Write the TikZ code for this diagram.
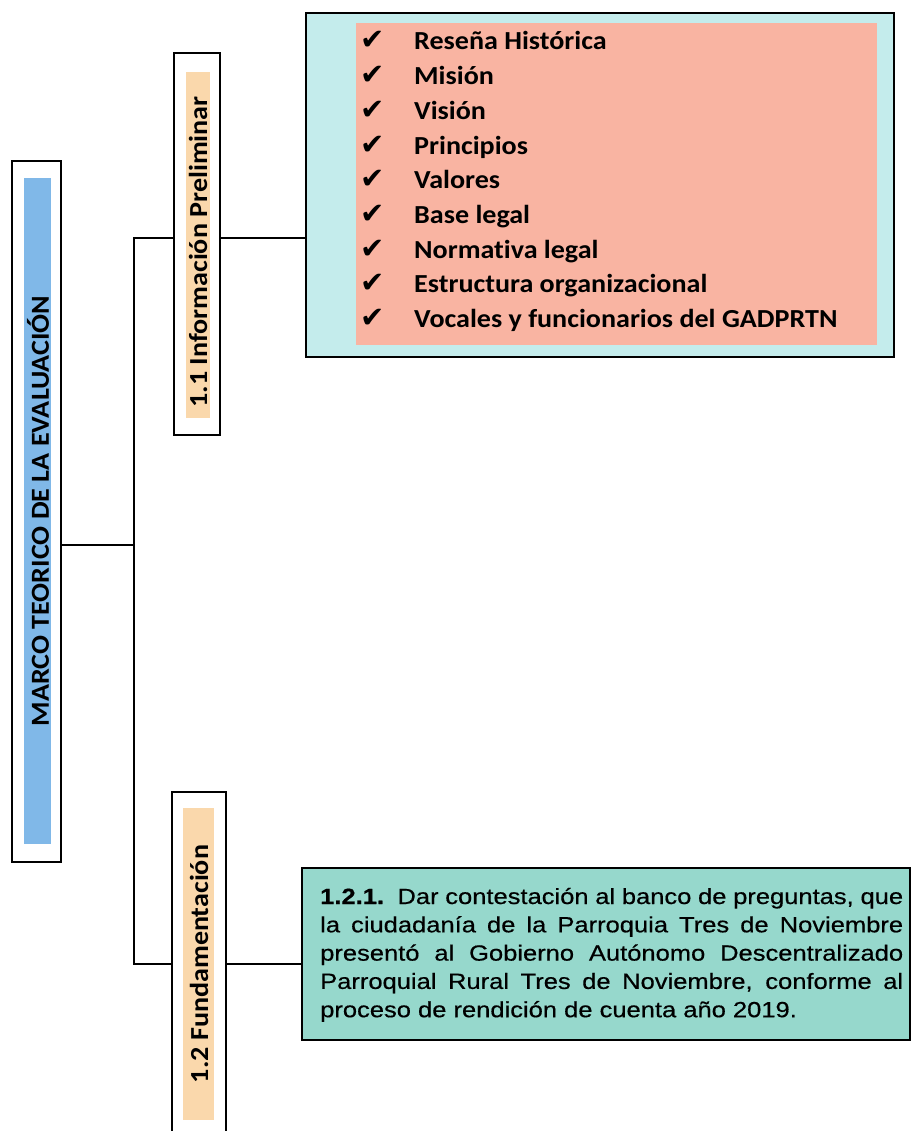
\documentclass[tikz,border=0pt]{standalone}
\usepackage{fontspec}
\newfontfamily\calb{Carlito Bold}[FakeStretch=1.08,Ligatures=NoCommon]
\newfontfamily\arl{Liberation Sans}[FakeStretch=1.16,FakeBold=0.5]
\newfontfamily\dejavu{DejaVu Sans}
\definecolor{mainblue}{RGB}{128,184,232}
\definecolor{peach}{RGB}{250,216,172}
\definecolor{paleCyan}{RGB}{196,236,236}
\definecolor{salmon}{RGB}{249,180,162}
\definecolor{tealbox}{RGB}{150,216,204}
\tikzset{
  frame/.style={draw=black, line width=2.2pt, rectangle, inner sep=0pt, outer sep=0pt},
  fillbox/.style={rectangle, inner sep=0pt, outer sep=0pt, draw=none},
  conn/.style={draw=black, line width=2.2pt},
  vlabel/.style={rotate=90, inner sep=0pt, font=\calb\fontsize{26}{30}\selectfont},
  listtext/.style={anchor=base west, inner sep=0pt, font=\calb\fontsize{26}{30}\selectfont},
  checkmark/.style={anchor=base west, inner sep=0pt, font=\dejavu\fontsize{29}{32}\selectfont},
}
\begin{document}
\begin{tikzpicture}[x=1pt,y=-1pt]
\useasboundingbox (0,0) rectangle (912,1131);
\clip (0,0) rectangle (912,1131);

% main box
\node[frame, fill=white, minimum width=49pt, minimum height=701pt] (mainbox) at (36.5,511.5) {};
\node[fillbox, fill=mainblue, minimum width=27pt, minimum height=666pt] (mainfill) at (37.5,511) {};
\node[vlabel] (maintext) at (38,511) {MARCO TEORICO DE LA EVALUACIÓN};

% 1.1
\node[frame, fill=white, minimum width=46pt, minimum height=382pt] (b11) at (197,244) {};
\node[fillbox, fill=peach, minimum width=24pt, minimum height=346pt] (f11) at (197.5,245) {};
\node[vlabel] (t11) at (198,252) {1.1 Información Preliminar};

% info box
\node[frame, fill=paleCyan, minimum width=588pt, minimum height=344pt] (info) at (600,185) {};
\node[fillbox, fill=salmon, minimum width=521pt, minimum height=322pt] (infofill) at (616.5,184) {};
\foreach \t [count=\i from 0] in {Reseña Histórica, Misión, Visión, Principios, Valores, Base legal, Normativa legal, Estructura organizacional, Vocales y funcionarios del GADPRTN} {
  \node[checkmark] (c\i) at (360, 50+34.7*\i) {✔};
  \node[listtext] (l\i) at (414, 50+34.7*\i) {\t};
}

% 1.2
\node[frame, fill=white, minimum width=54pt, minimum height=356pt] (b12) at (199,970) {};
\node[fillbox, fill=peach, minimum width=31pt, minimum height=312pt] (f12) at (198.5,964) {};
\node[vlabel] (t12) at (199,964) {1.2 Fundamentación};

% 1.2.1
\node[frame, fill=tealbox, minimum width=608pt, minimum height=172pt] (b121) at (606,954) {};
\node[anchor=base west, inner sep=0pt] (t121) at (320,904) {\parbox[t]{583pt}{\arl\fontsize{22}{28.3}\selectfont\tolerance=10000\noindent
\textbf{1.2.1.}\ \ Dar contestación al banco de preguntas, que\linebreak
la ciudadanía de la Parroquia Tres de Noviembre\linebreak
presentó al Gobierno Autónomo Descentralizado\linebreak
Parroquial Rural Tres de Noviembre, conforme al\linebreak
proceso de rendición de cuenta año 2019.}};

% connectors
\coordinate (jmain) at (134,545);
\coordinate (jtop) at (134,238);
\coordinate (jbot) at (134,964);
\draw[conn] (mainbox.east |- jmain) -- (jmain);
\draw[conn] (b11.west |- jtop) -- (jtop) -- (jbot) -- (b12.west |- jbot);
\draw[conn] (b11.east |- jtop) -- (info.west |- jtop);
\draw[conn] (b12.east |- jbot) -- (b121.west |- jbot);
\end{tikzpicture}
\end{document}
